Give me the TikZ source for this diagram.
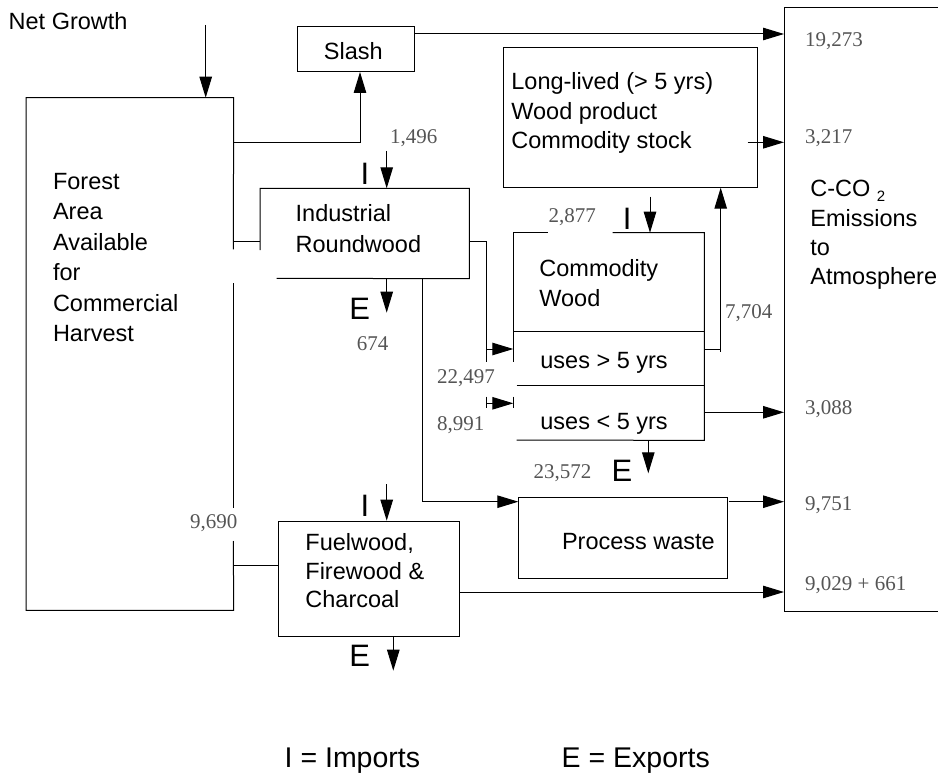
\documentclass[tikz,border=0pt]{standalone}
\usepackage{fontspec}
\setmainfont{Liberation Sans}
\newfontfamily\numfont{Liberation Serif}
\usetikzlibrary{arrows.meta,calc}
\definecolor{numgray}{RGB}{85,85,85}
\tikzset{
  box/.style={draw, line width=1pt, inner sep=0pt, anchor=north west},
  frame/.style={draw=none, inner sep=0pt, anchor=north west},
  ln/.style={line width=1pt},
  arr/.style={line width=1pt, -{Triangle[length=21pt,width=12.5pt]}},
  lbl/.style={inner sep=0pt, anchor=base west, font=\fontsize{23.5}{29.5}\selectfont},
  num/.style={inner sep=0pt, anchor=base west, text=numgray, font=\numfont\fontsize{21}{21}\selectfont},
  ie/.style={inner sep=0pt, anchor=base west, font=\fontsize{31}{31}\selectfont},
  legend/.style={inner sep=0pt, anchor=base west, font=\fontsize{28.5}{28.5}\selectfont},
}
\begin{document}
\begin{tikzpicture}[x=1pt,y=-1pt]
\useasboundingbox (0,0) rectangle (938,773);
\clip (0,0) rectangle (938,773);

% ---------- boxes ----------
\node[box, minimum width=117.6pt, minimum height=45pt] (slash) at (296.7,26) {};
\node[frame, minimum width=207.3pt, minimum height=512.3pt] (forest) at (26,97.7) {};
\node[frame, minimum width=209pt, minimum height=90pt] (ir) at (260,188.3) {};
\node[box, minimum width=254pt, minimum height=139.4pt] (llived) at (503.3,47.3) {};
\node[frame, minimum width=190.7pt, minimum height=207.3pt] (cwood) at (513.3,232.7) {};
\node[box, minimum width=181pt, minimum height=115.3pt] (fuel) at (278.3,520.7) {};
\node[box, minimum width=208.4pt, minimum height=81pt] (pwaste) at (518.3,496.7) {};
\node[frame, minimum width=170pt, minimum height=603.4pt] (emis) at (784,7.3) {};

% outlines with gaps
\draw[ln] (233.3,249.3) -- (forest.north east) -- (forest.north west) -- (forest.south west) -- (forest.south east) -- (233.3,541);
\draw[ln] (233.3,283.3) -- (233.3,507.7);
\draw[ln] (260,250) -- (ir.north west) -- (ir.north east) -- (ir.south east) -- (276.7,278.3);
\draw[ln] (513.3,361.7) -- (cwood.north west) -- (547.5,232.7);
\draw[ln] (612.7,232.7) -- (cwood.north east) -- (cwood.south east) -- (516.7,440);
\draw[ln] (513.3,331.7) -- (704,331.7);
\draw[ln] (516.7,385.7) -- (704,385.7);
\draw[ln] (emis.north east) -- (emis.north west) -- (emis.south west) -- (emis.south east);

% ---------- texts ----------
\node[lbl] (tnet) at (8.5,30) {Net Growth};
\node[lbl, anchor=base] (tslash) at (353.3,59.3) {Slash};
\node[lbl] (tforest) at (52.8,189.3) {\parbox[t]{170pt}{\baselineskip=30.5pt Forest\\Area\\Available\\for\\Commercial\\Harvest}};
\node[lbl] (tir) at (295.5,221.7) {\parbox[t]{160pt}{\baselineskip=31pt Industrial\\Roundwood}};
\node[lbl] (tll) at (511.2,90) {\parbox[t]{235pt}{\baselineskip=29.2pt Long-lived (> 5 yrs)\\Wood product\\Commodity stock}};
\node[lbl] (tcw) at (539.2,276.7) {\parbox[t]{150pt}{\baselineskip=30pt Commodity\\Wood}};
\node[lbl] (tgt) at (540.2,368.3) {uses > 5 yrs};
\node[lbl] (tlt) at (540.2,429) {uses < 5 yrs};
\node[lbl] (tfuel) at (305.2,550.7) {\parbox[t]{150pt}{\baselineskip=28.5pt Fuelwood,\\Firewood \&\\Charcoal}};
\node[lbl] (tpw) at (561.8,549.3) {Process waste};
\node[lbl] (temis) at (810.2,196.7) {\parbox[t]{150pt}{\baselineskip=29.4pt C-CO\ \raisebox{-5pt}{\fontsize{15}{15}\selectfont 2}\\Emissions\\to\\Atmosphere}};

% I / E labels
\node[ie] (iir) at (360.3,185) {I};
\node[ie] (eir) at (349.2,319.3) {E};
\node[ie] (icw) at (622.7,229.3) {I};
\node[ie] (ecw) at (611.5,481.7) {E};
\node[ie] (ifu) at (360.3,516.7) {I};
\node[ie] (efu) at (349.2,666) {E};

% numbers
\node[num] (n1496) at (390,143.8) {1,496};
\node[num] (n674) at (356.7,350.4) {674};
\node[num] (n2877) at (548.3,222.1) {2,877};
\node[num] (n7704) at (725,318.8) {7,704};
\node[num] (n22497) at (437,383.1) {22,497};
\node[num] (n8991) at (437,430.4) {8,991};
\node[num] (n23572) at (533.3,478.8) {23,572};
\node[num] (n9690) at (190,528.8) {9,690};
\node[num] (n19273) at (805,46.4) {19,273};
\node[num] (n3217) at (805,143.1) {3,217};
\node[num] (n3088) at (805,414.8) {3,088};
\node[num] (n9751) at (805,510.4) {9,751};
\node[num] (n9029) at (805,590.4) {9,029 + 661};

% legend
\node[legend] (limp) at (284.5,767) {I = Imports};
\node[legend] (lexp) at (561.5,767) {E = Exports};

% ---------- connectors ----------
\coordinate (ng) at (205.7,25);
\draw[arr] (ng) -- (ng |- forest.north);

\coordinate (fs) at (360,142.7);
\draw[arr] (fs -| forest.east) -- (fs) -- (fs |- slash.south);

\coordinate (se) at (414.3,34);
\draw[arr] (se -| slash.east) -- (se -| emis.west);

\coordinate (le) at (747.7,142.3);
\draw[arr] (le) -- (le -| emis.west);

\coordinate (iri) at (386.7,151);
\draw[arr] (iri) -- (iri |- ir.north);

\coordinate (fir) at (233.3,241.7);
\draw[ln] (fir) -- (fir -| ir.west);

\coordinate (irc) at (486,241.7);
\coordinate (irb) at (486,361.7);
\draw[ln] (irc -| ir.east) -- (irc) -- (irb);
\coordinate (c22) at (486,349);
\draw[arr] (c22) -- (c22 -| cwood.west);

\coordinate (c89) at (486,403.3);
\draw[arr] (c89) -- (c89 -| cwood.west);
\draw[ln] (486,396.7) -- (486,408.3);
\draw[ln] (513.3,396.7) -- (513.3,408.3);

\coordinate (ire) at (386.7,312.7);
\draw[arr] (ire |- ir.south) -- (ire);

\coordinate (irp) at (422.7,501.7);
\draw[arr] (irp |- ir.south) -- (irp) -- (irp -| pwaste.west);

\coordinate (ci) at (650,196.7);
\draw[arr] (ci) -- (ci |- cwood.north);

\coordinate (cl) at (720.7,349);
\draw[arr] (cl -| cwood.east) -- (cl) -- (cl |- llived.south);
\draw[ln] (cl) -- (720.7,352);

\coordinate (ce) at (704,412.3);
\draw[arr] (ce -| cwood.east) -- (ce -| emis.west);

\coordinate (cx) at (648.3,473.3);
\draw[arr] (cx |- cwood.south) -- (cx);

\coordinate (pe) at (729.3,501.7);
\draw[arr] (pe) -- (pe -| emis.west);

\coordinate (fe) at (459.3,592);
\draw[arr] (fe -| fuel.east) -- (fe -| emis.west);

\coordinate (ff) at (233.3,565);
\draw[ln] (ff) -- (ff -| fuel.west);

\coordinate (fi) at (386.7,484);
\draw[arr] (fi) -- (fi |- fuel.north);

\coordinate (fx) at (393.3,670.7);
\draw[arr] (fx |- fuel.south) -- (fx);
\end{tikzpicture}
\end{document}
